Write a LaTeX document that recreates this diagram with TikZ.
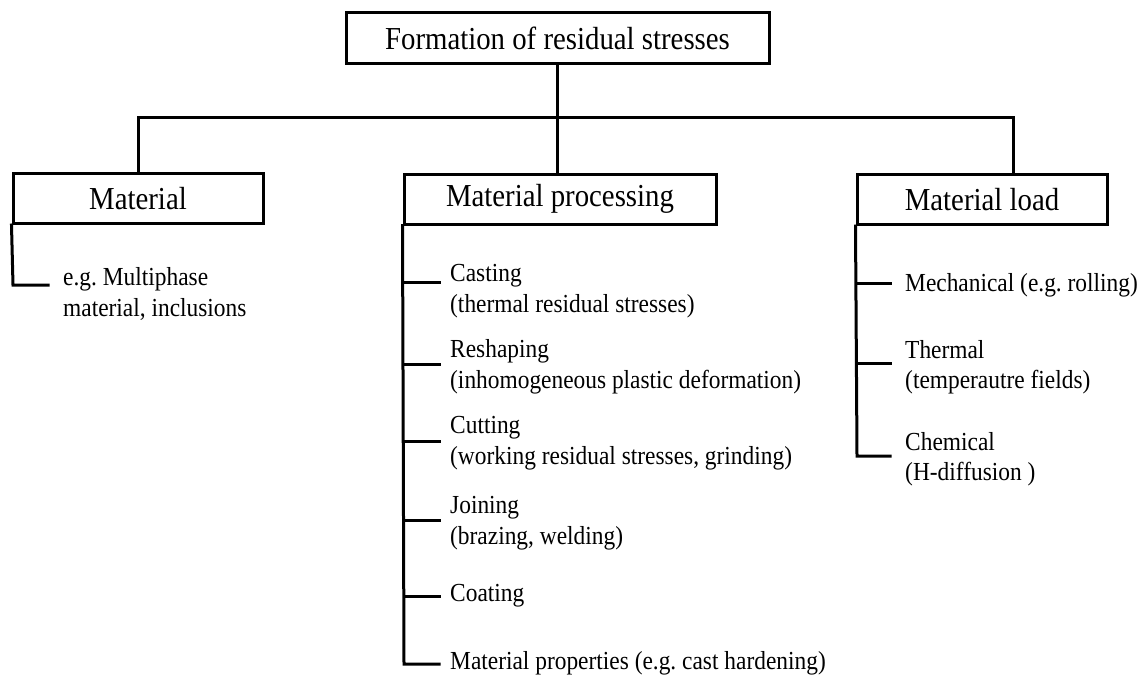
\documentclass[tikz,border=0pt]{standalone}
\usepackage{fontspec}
\setmainfont{Liberation Serif}[FakeStretch=0.9]
\frenchspacing
\newcommand\mybxfont{\fontsize{32}{36}\selectfont}
\newcommand\myitfont{\fontsize{26}{30.5}\selectfont}
\tikzset{
  box/.style={draw, line width=3pt, inner sep=0pt, font=\mybxfont, minimum height=50pt},
  item/.style={anchor=west, align=left, inner xsep=11pt, inner ysep=0pt, font=\myitfont},
  conn/.style={line width=3pt, line join=miter, line cap=rect}
}
\begin{document}
\begin{tikzpicture}[x=1pt, y=-1pt]
\useasboundingbox (0,0) rectangle (1139,677);
% boxes
\node[box, minimum width=423pt] (top) at (557.5,38) {Formation of residual stresses};
\node[box, minimum width=250pt] (mat) at (138,198.5) {Material};
\node[box, minimum width=312pt] (proc) at (560,199) {Material processing};
\node[box, minimum width=250pt] (load) at (982,199.5) {Material load};
% junctions
\coordinate (jL) at (138,117);
\coordinate (jR) at (1013,117);
\draw[conn] (top.south) -- (top.south |- proc.north);
\draw[conn] (jL) -- (jR);
\draw[conn] (jL) -- (mat.north);
\draw[conn] (jR) -- (jR |- load.north);
% Material branch
\node[item, inner xsep=15pt] (m1) at (48,294) {e.g. Multiphase\\material, inclusions};
\coordinate (mt) at (13,285);
\draw[conn] (mat.south west) -- (mt) -- (mt -| m1.west);
% Material processing branch
\node[item] (p1) at (439,291) {Casting\\(thermal residual stresses)};
\node[item] (p2) at (439,367) {Reshaping\\(inhomogeneous plastic deformation)};
\node[item] (p3) at (439,443) {Cutting\\(working residual stresses, grinding)};
\node[item] (p4) at (439,523) {Joining\\(brazing, welding)};
\node[item] (p5) at (439,596) {Coating};
\node[item] (p6) at (439,663) {Material properties (e.g. cast hardening)};
\coordinate (p1t) at (404,282);
\coordinate (p2t) at (404,364);
\coordinate (p3t) at (404,441);
\coordinate (p4t) at (404,520);
\coordinate (p5t) at (404,596);
\coordinate (p6t) at (404,664);
\draw[conn] (proc.south west) -- (p6t) -- (p6t -| p6.west);
\foreach \i in {1,...,5} { \draw[conn] (p\i t) -- (p\i t -| p\i.west); }
% Material load branch
\node[item, inner xsep=15pt] (l1) at (890,285) {Mechanical (e.g. rolling)};
\node[item, inner xsep=15pt] (l2) at (890,367) {Thermal\\(temperautre fields)};
\node[item, inner xsep=15pt] (l3) at (890,459) {Chemical\\(H-diffusion )};
\coordinate (l1t) at (857,283);
\coordinate (l2t) at (857,363);
\coordinate (l3t) at (857,456);
\draw[conn] (load.south west) -- (l3t) -- (l3t -| l3.west);
\draw[conn] (l1t) -- (l1t -| l1.west);
\draw[conn] (l2t) -- (l2t -| l2.west);
\end{tikzpicture}
\end{document}
